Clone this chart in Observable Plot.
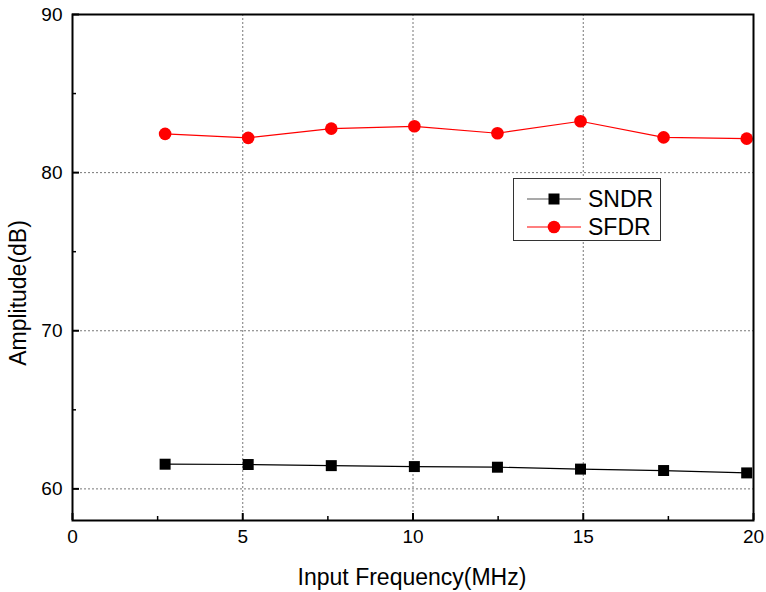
<!DOCTYPE html>
<html>
<head>
<meta charset="utf-8">
<script src="https://cdn.jsdelivr.net/npm/d3@7"></script>
<script src="https://cdn.jsdelivr.net/npm/@observablehq/plot@0.6"></script>
<style>
  html, body { margin: 0; padding: 0; background: #fff; }
  #wrap { position: relative; width: 766px; height: 592px; font-family: "Liberation Sans", Arial, sans-serif; }
  #legend { position: absolute; left: 513px; top: 178px; width: 146px; height: 61px; border: 1px solid #333; background: #fff; }
  #ylabel { position: absolute; left: 18px; top: 293px; transform: translate(-50%, -50%) rotate(-90deg); font-size: 23px; white-space: nowrap; color: #000; line-height: 1; }
  #xlabel { position: absolute; left: 412px; top: 577px; transform: translate(-50%, -50%); font-size: 23px; white-space: nowrap; color: #000; line-height: 1; }
</style>
</head>
<body>
<div id="wrap"><div id="legend"></div><div id="ylabel"></div><div id="xlabel"></div></div>
<script>
const freq = [2.72, 5.16, 7.6, 10.04, 12.48, 14.92, 17.36, 19.8];
const sndr = [61.56, 61.54, 61.47, 61.41, 61.37, 61.25, 61.16, 61.01];
const sfdr = [82.45, 82.2, 82.78, 82.93, 82.49, 83.25, 82.23, 82.15];
const xMajor = [0, 5, 10, 15, 20];
const xMinor = [2.5, 7.5, 12.5, 17.5];
const yMajor = [60, 70, 80, 90];
const yMinor = [65, 75, 85];
const xGrid = [5, 10, 15];
const yGrid = [60, 70, 80];
const xTitle = "Input Frequency(MHz)";
const yTitle = "Amplitude(dB)";
const series = [
  {name: "SNDR", values: sndr, color: "#000", symbol: "square"},
  {name: "SFDR", values: sfdr, color: "#ff0000", symbol: "circle"}
];

const rows = series.flatMap(s => freq.map((f, i) => ({series: s.name, f, v: s.values[i]})));
const sndrRows = rows.filter(d => d.series === "SNDR");
const sfdrRows = rows.filter(d => d.series === "SFDR");

const font = "Liberation Sans, Arial, sans-serif";
const chart = Plot.plot({
  width: 766,
  height: 592,
  marginLeft: 72,
  marginRight: 13,
  marginTop: 14,
  marginBottom: 72,
  style: {fontFamily: font, background: "#fff", overflow: "visible"},
  x: {domain: [0, 20]},
  y: {domain: [58, 90]},
  marks: [
    Plot.gridX(xGrid, {stroke: "#777", strokeOpacity: 1, strokeDasharray: "2,2", strokeWidth: 1}),
    Plot.gridY(yGrid, {stroke: "#777", strokeOpacity: 1, strokeDasharray: "2,2", strokeWidth: 1}),
    Plot.line(sndrRows, {x: "f", y: "v", stroke: "#000", strokeWidth: 1.2}),
    Plot.dot(sndrRows, {x: "f", y: "v", symbol: "square", r: 6.2, fill: "#000", stroke: "none"}),
    Plot.line(sfdrRows, {x: "f", y: "v", stroke: "#ff0000", strokeWidth: 1.2}),
    Plot.dot(sfdrRows, {x: "f", y: "v", symbol: "circle", r: 6.3, fill: "#ff0000", stroke: "none"}),
    Plot.axisX(xMajor, {tickSize: -7, text: null, label: null, strokeWidth: 2}),
    Plot.axisX(xMinor, {tickSize: -4, text: null, label: null, strokeWidth: 1.5}),
    Plot.axisX(xMajor, {tickSize: 0, tickPadding: 9, fontSize: 19, label: null, fill: "#000"}),
    Plot.axisY(yMajor, {tickSize: -7, text: null, label: null, strokeWidth: 2}),
    Plot.axisY(yMinor, {tickSize: -4, text: null, label: null, strokeWidth: 1.5}),
    Plot.axisY(yMajor, {tickSize: 0, tickPadding: 10, fontSize: 19, label: null, fill: "#000"}),
    Plot.frame({stroke: "#000", strokeWidth: 2})
  ]
});
const wrap = document.getElementById("wrap");
wrap.insertBefore(chart, wrap.firstChild);
document.getElementById("xlabel").textContent = xTitle;
document.getElementById("ylabel").textContent = yTitle;

// legend
const lg = d3.select("#legend").append("svg").attr("width", 146).attr("height", 61);
series.forEach((s, i) => {
  const g = lg.append("g").attr("transform", `translate(0,${20 + i * 28})`);
  g.append("line").attr("x1", 13).attr("x2", 67).attr("y1", 0).attr("y2", 0)
    .attr("stroke", s.color === "#000" ? "#555" : s.color).attr("stroke-width", 1.2);
  if (s.symbol === "square") {
    g.append("rect").attr("x", 34.5).attr("y", -5.5).attr("width", 11).attr("height", 11).attr("fill", s.color);
  } else {
    g.append("circle").attr("cx", 40).attr("cy", 0).attr("r", 6.3).attr("fill", s.color);
  }
  g.append("text").attr("x", 74).attr("y", 0).attr("dy", "0.36em")
    .attr("font-family", font).attr("font-size", 23).attr("fill", "#000").text(s.name);
});
</script>
</body>
</html>
